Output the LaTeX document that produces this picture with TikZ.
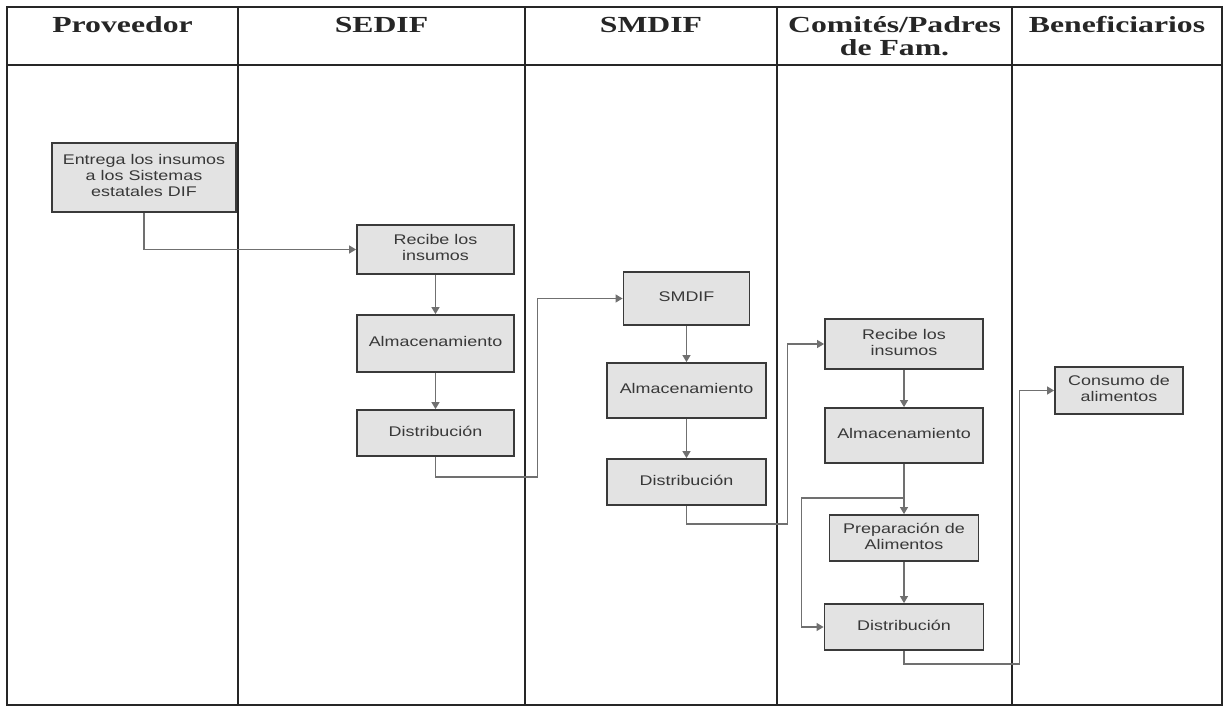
\documentclass[tikz,border=0pt]{standalone}
\usepackage{fontspec}
\setmainfont{Liberation Serif}
\newfontfamily\boxfont{Liberation Sans}
\usetikzlibrary{arrows.meta}
\definecolor{boxfill}{HTML}{E3E3E3}
\definecolor{boxline}{HTML}{3A3A3A}
\definecolor{conn}{HTML}{707070}
\definecolor{tline}{HTML}{262626}
\newcommand\hx[1]{\scalebox{1.38}[1]{\begin{tabular}[t]{@{}c@{}}#1\end{tabular}}}
\newcommand\bt[1]{\scalebox{1.28}[1]{\begin{tabular}{@{}c@{}}#1\end{tabular}}}
\tikzset{
  bx/.style={draw=boxline, line width=1.8pt, fill=boxfill, rectangle, inner sep=0pt,
    text=black!78, font=\boxfont\fontsize{14}{16}\selectfont},
  cn/.style={draw=conn, line width=1.2pt, -{Triangle[width=8pt,length=7pt]}},
  hd/.style={anchor=base, inner sep=0pt, text=black!85, font=\bfseries\fontsize{23}{22}\selectfont},
  tl/.style={draw=tline, line width=1.6pt}
}
\begin{document}
\begin{tikzpicture}[x=1pt,y=-1pt]
\useasboundingbox (0,0) rectangle (1228,709);
% table
\draw[tl] (7,7) rectangle (1222,705);
\draw[tl] (7,65) -- (1222,65);
\foreach \xx in {238,525,777,1012} \draw[tl] (\xx,7) -- (\xx,705);
% headers
\node[hd] (h1) at (122.5,33) {\hx{Proveedor}};
\node[hd] (h2) at (381.5,33) {\hx{SEDIF}};
\node[hd] (h3) at (651,33) {\hx{SMDIF}};
\node[hd] (h4) at (894.5,33) {\hx{Comités/Padres\\de Fam.}};
\node[hd] (h5) at (1117,33) {\hx{Beneficiarios}};
% boxes
\node[bx, minimum width=184pt, minimum height=69pt] (e) at (144,177.5) {\bt{Entrega los insumos\\a los Sistemas\\estatales DIF}};
\node[bx, minimum width=157pt, minimum height=49pt] (s1) at (435.5,249.5) {\bt{Recibe los\\insumos}};
\node[bx, minimum width=157pt, minimum height=57pt] (s2) at (435.5,343.5) {\bt{Almacenamiento}};
\node[bx, minimum width=157pt, minimum height=46pt] (s3) at (435.5,433) {\bt{Distribución}};
\node[bx, minimum width=126pt, minimum height=53pt] (m1) at (686.5,298.5) {\bt{SMDIF}};
\node[bx, minimum width=159pt, minimum height=55pt] (m2) at (686.5,390.5) {\bt{Almacenamiento}};
\node[bx, minimum width=159pt, minimum height=46pt] (m3) at (686.5,482) {\bt{Distribución}};
\node[bx, minimum width=158pt, minimum height=50pt] (c1) at (904,344) {\bt{Recibe los\\insumos}};
\node[bx, minimum width=158pt, minimum height=55pt] (c2) at (904,435.5) {\bt{Almacenamiento}};
\node[bx, minimum width=149pt, minimum height=46pt] (c3) at (904,538) {\bt{Preparación de\\Alimentos}};
\node[bx, minimum width=159pt, minimum height=46pt] (c4) at (904,627) {\bt{Distribución}};
\node[bx, minimum width=128pt, minimum height=47pt] (b1) at (1119,390.5) {\bt{Consumo de\\alimentos}};
% connectors
\draw[cn] (e.south) |- (s1.west);
\draw[cn] (s1) -- (s2);
\draw[cn] (s2) -- (s3);
\draw[cn] (s3.south) -- ++(0,20) -| ([xshift=-85pt]m1.west) -- (m1.west);
\draw[cn] (m1) -- (m2);
\draw[cn] (m2) -- (m3);
\draw[cn] (m3.south) -- ++(0,18) -| ([xshift=-37pt]c1.west) -- (c1.west);
\draw[cn] (c1) -- (c2);
\draw[cn] (c2) -- (c3);
\draw[cn] (c3) -- (c4);
\coordinate (j) at (904,498);
\draw[cn] (j) -| ([xshift=-22pt]c4.west) -- (c4.west);
\draw[cn] (c4.south) -- ++(0,13) -| ([xshift=-35pt]b1.west) -- (b1.west);
\end{tikzpicture}
\end{document}
